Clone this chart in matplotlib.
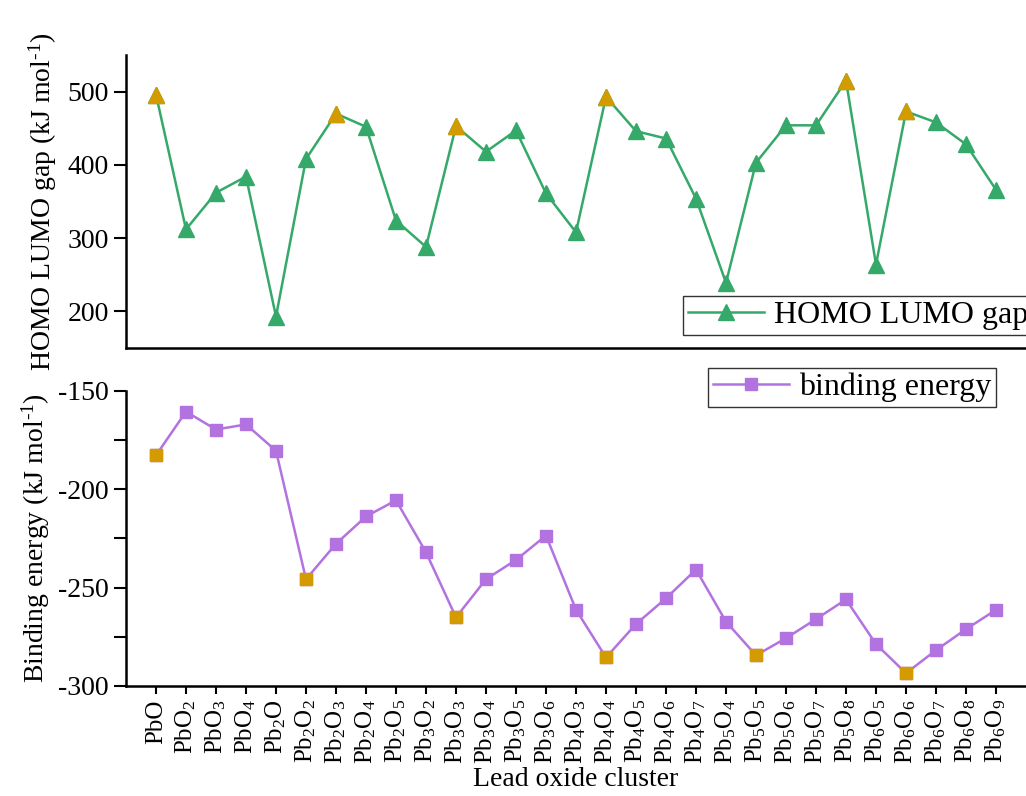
import matplotlib
matplotlib.use('Agg')
import matplotlib.pyplot as plt
from matplotlib.ticker import MultipleLocator

# 클러스터 이름 (아래첨자는 mathtext)
clusters = ['PbO', 'PbO$_2$', 'PbO$_3$', 'PbO$_4$', 'Pb$_2$O', 'Pb$_2$O$_2$', 'Pb$_2$O$_3$',
            'Pb$_2$O$_4$', 'Pb$_2$O$_5$', 'Pb$_3$O$_2$', 'Pb$_3$O$_3$', 'Pb$_3$O$_4$',
            'Pb$_3$O$_5$', 'Pb$_3$O$_6$', 'Pb$_4$O$_3$', 'Pb$_4$O$_4$', 'Pb$_4$O$_5$',
            'Pb$_4$O$_6$', 'Pb$_4$O$_7$', 'Pb$_5$O$_4$', 'Pb$_5$O$_5$', 'Pb$_5$O$_6$',
            'Pb$_5$O$_7$', 'Pb$_5$O$_8$', 'Pb$_6$O$_5$', 'Pb$_6$O$_6$', 'Pb$_6$O$_7$',
            'Pb$_6$O$_8$', 'Pb$_6$O$_9$']

gap = [496, 312, 362, 384, 193, 408, 470, 452, 324, 288, 453, 418, 447, 361, 308,
       493, 446, 436, 354, 239, 403, 454, 454, 515, 264, 473, 458, 428, 366]
gap_hl = [0, 6, 10, 15, 23, 25]

binding = [-182.7, -160.5, -169.6, -167.0, -180.4, -245.7, -227.7, -213.8, -205.6,
           -232.0, -265.1, -245.7, -235.9, -223.5, -261.2, -285.5, -268.5, -255.4,
           -240.8, -267.3, -284.4, -275.7, -266.0, -256.0, -278.7, -293.5, -281.8,
           -271.1, -261.3]
bind_hl = [0, 5, 10, 15, 20, 25]

green = '#35a96a'
purple = '#b273e0'
orange = '#d39b00'

plt.rcParams['font.family'] = ['Liberation Serif', 'DejaVu Serif']
plt.rcParams['mathtext.fontset'] = 'custom'
plt.rcParams['mathtext.rm'] = 'Liberation Serif'
plt.rcParams['mathtext.it'] = 'Liberation Serif:italic'
plt.rcParams['mathtext.bf'] = 'Liberation Serif:bold'
plt.rcParams['axes.unicode_minus'] = False

fig = plt.figure(figsize=(10.26, 7.96), dpi=100)
ax1 = fig.add_axes([0.1228, 0.5628, 0.8772, 0.3681])
ax2 = fig.add_axes([0.1228, 0.1382, 0.8772, 0.3706])

xs = list(range(len(clusters)))

# 위: HOMO LUMO gap
ax1.plot(xs, gap, color=green, lw=1.8, marker='^', ms=11, mec=green, mfc=green,
         label='HOMO LUMO gap')
ax1.plot([xs[i] for i in gap_hl], [gap[i] for i in gap_hl], ls='none', marker='^',
         ms=11, mfc=orange, mec=orange)
ax1.set_xlim(-1, 29)
ax1.set_ylim(150, 550)
ax1.set_yticks([200, 300, 400, 500])
ax1.set_xticks([])
ax1.set_ylabel('HOMO LUMO gap (kJ mol$^{\\text{-1}}$)', fontsize=20, labelpad=6)

# 아래: binding energy
ax2.plot(xs, binding, color=purple, lw=1.8, marker='s', ms=8, mec=purple, mfc=purple,
         label='binding energy')
ax2.plot([xs[i] for i in bind_hl], [binding[i] for i in bind_hl], ls='none', marker='s',
         ms=8, mfc=orange, mec=orange)
ax2.set_xlim(-1, 29)
ax2.set_ylim(-300, -150)
ax2.yaxis.set_major_locator(MultipleLocator(50))
ax2.yaxis.set_minor_locator(MultipleLocator(25))
ax2.set_xticks(xs)
ax2.set_xticklabels(clusters, rotation=90, fontsize=18)
ax2.set_ylabel('Binding energy (kJ mol$^{\\text{-1}}$)', fontsize=20, labelpad=4)
ax2.set_xlabel('Lead oxide cluster', fontsize=20, labelpad=2)

for ax in (ax1, ax2):
    for s in ('top', 'right'):
        ax.spines[s].set_visible(False)
    for s in ('left', 'bottom'):
        ax.spines[s].set_linewidth(1.8)
    ax.tick_params(axis='y', which='both', direction='out', length=9, width=1.5,
                   labelsize=20)
    ax.tick_params(axis='x', direction='out', length=6, width=1.5)

ax1.legend(loc='upper left', bbox_to_anchor=(0.6657, 0.6281), bbox_transform=fig.transFigure,
           fontsize=23, frameon=True, fancybox=False, edgecolor='#333333', framealpha=1,
           borderpad=0.15, handlelength=2.4, handletextpad=0.3, borderaxespad=0)
ax2.legend(loc='upper left', bbox_to_anchor=(0.690, 0.5377), bbox_transform=fig.transFigure,
           fontsize=23, frameon=True, fancybox=False, edgecolor='#333333', framealpha=1,
           borderpad=0.15, handlelength=2.4, handletextpad=0.3, borderaxespad=0)

plt.savefig('out.png', dpi=100)
